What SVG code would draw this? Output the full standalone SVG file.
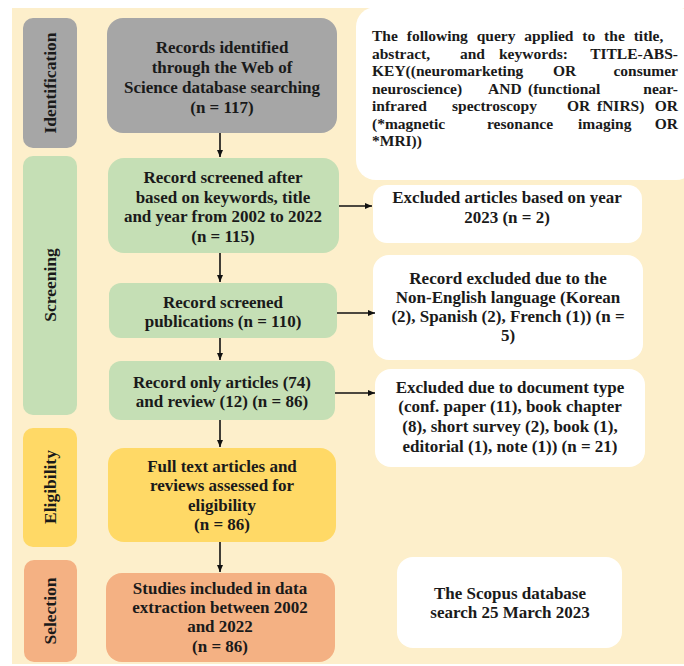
<svg xmlns="http://www.w3.org/2000/svg" width="684" height="666" viewBox="0 0 684 666">
<defs>
<marker id="ah" markerWidth="8" markerHeight="8" refX="7" refY="4" orient="auto" markerUnits="userSpaceOnUse">
<path d="M0,1 L7,4 L0,7 Z" fill="#111"/>
</marker>
<style>
text{font-family:"Liberation Serif",serif;font-weight:bold;fill:#1a1a1a;font-size:17px}
.c{text-anchor:middle}
.e{text-anchor:end}
.q{font-size:15.5px}
.lab{font-size:17.5px}
.con line{stroke:#111;stroke-width:1.6;marker-end:url(#ah)}
.gray{fill:#A6A6A6}
.green{fill:#C5DFB5}
.yellow{fill:#FFD966}
.orange{fill:#F4B183}
.white{fill:#FFFFFF}
</style>
</defs>
<rect x="0" y="0" width="684" height="666" fill="#FFFFFF"/>
<rect x="12" y="8" width="680" height="656" fill="#FDEFCB"/>

<g id="label-identification">
<rect class="gray" x="23" y="18" width="54" height="130" rx="10"/>
<text class="c lab" transform="translate(56,83) rotate(-90)">Identification</text>
</g>
<g id="label-screening">
<rect class="green" x="23" y="156" width="54" height="259" rx="10"/>
<text class="c lab" transform="translate(56,285) rotate(-90)">Screening</text>
</g>
<g id="label-eligibility">
<rect class="yellow" x="23" y="428" width="54" height="119" rx="10"/>
<text class="c lab" transform="translate(56,487) rotate(-90)">Eligibility</text>
</g>
<g id="label-selection">
<rect class="orange" x="24" y="560" width="53" height="102" rx="10"/>
<text class="c lab" transform="translate(56,611) rotate(-90)">Selection</text>
</g>

<g id="records-identified">
<rect class="gray" x="107" y="18" width="230" height="115" rx="16"/>
<text class="c" x="222" y="53">Records identified</text>
<text class="c" x="222" y="73">through the Web of</text>
<text class="c" x="222" y="93">Science database searching</text>
<text class="c" x="222" y="113">(n = 117)</text>
</g>
<g id="screened-keywords">
<rect class="green" x="108" y="158" width="231" height="95" rx="16"/>
<text class="c" x="223" y="183">Record screened after</text>
<text class="c" x="223" y="203">based on keywords, title</text>
<text class="c" x="223" y="222">and year from 2002 to 2022</text>
<text class="c" x="223" y="242">(n = 115)</text>
</g>
<g id="screened-publications">
<rect class="green" x="109" y="283" width="228" height="55" rx="12"/>
<text class="c" x="223" y="308">Record screened</text>
<text class="c" x="223" y="327">publications (n = 110)</text>
</g>
<g id="articles-review">
<rect class="green" x="109" y="361" width="226" height="59" rx="12"/>
<text class="c" x="222" y="388">Record only articles (74)</text>
<text class="c" x="222" y="407">and review (12) (n = 86)</text>
</g>
<g id="full-text">
<rect class="yellow" x="108" y="448" width="228" height="94" rx="16"/>
<text class="c" x="222" y="472">Full text articles and</text>
<text class="c" x="222" y="491">reviews assessed for</text>
<text class="c" x="222" y="511">eligibility</text>
<text class="c" x="222" y="530">(n = 86)</text>
</g>
<g id="studies-included">
<rect class="orange" x="106" y="573" width="229" height="89" rx="16"/>
<text class="c" x="220" y="594">Studies included in data</text>
<text class="c" x="220" y="613">extraction between 2002</text>
<text class="c" x="220" y="632">and 2022</text>
<text class="c" x="220" y="652">(n = 86)</text>
</g>

<g id="query">
<rect class="white" x="356" y="7" width="340" height="173" rx="20"/>
<text class="q" x="372" y="41" word-spacing="5">The following query applied to the title,</text>
<text class="q" y="58.5"><tspan x="372">abstract,</tspan><tspan x="460">and</tspan><tspan x="499">keywords:</tspan></text>
<text class="q e" x="678" y="58.5">TITLE-ABS-</text>
<text class="q" y="76"><tspan x="372">KEY((neuromarketing</tspan><tspan x="553">OR</tspan></text>
<text class="q e" x="678" y="76">consumer</text>
<text class="q" y="93.5"><tspan x="372">neuroscience)</tspan><tspan x="488">AND</tspan><tspan x="528">(functional</tspan></text>
<text class="q e" x="678" y="93.5">near-</text>
<text class="q" y="111"><tspan x="372">infrared</tspan><tspan x="452">spectroscopy</tspan><tspan x="567">OR</tspan><tspan x="597">fNIRS)</tspan></text>
<text class="q e" x="678" y="111">OR</text>
<text class="q" y="128.5"><tspan x="372">(*magnetic</tspan><tspan x="487">resonance</tspan><tspan x="578">imaging</tspan></text>
<text class="q e" x="678" y="128.5">OR</text>
<text class="q" x="372" y="146">*MRI))</text>
</g>
<g id="excluded-year">
<rect class="white" x="373" y="185" width="269" height="58" rx="14"/>
<text class="c" x="507" y="203">Excluded articles based on year</text>
<text class="c" x="507" y="223">2023 (n = 2)</text>
</g>
<g id="excluded-language">
<rect class="white" x="373" y="255" width="270" height="105" rx="16"/>
<text class="c" x="508" y="284">Record excluded due to the</text>
<text class="c" x="508" y="303">Non-English language (Korean</text>
<text class="c" x="508" y="322">(2), Spanish (2), French (1)) (n =</text>
<text class="c" x="508" y="341">5)</text>
</g>
<g id="excluded-type">
<rect class="white" x="375" y="369" width="270" height="98" rx="16"/>
<text class="c" x="510" y="393">Excluded due to document type</text>
<text class="c" x="510" y="412">(conf. paper (11), book chapter</text>
<text class="c" x="510" y="432">(8), short survey (2), book (1),</text>
<text class="c" x="510" y="452">editorial (1), note (1)) (n = 21)</text>
</g>
<g id="scopus">
<rect class="white" x="397" y="557" width="225" height="91" rx="16"/>
<text class="c" x="510" y="599">The Scopus database</text>
<text class="c" x="510" y="618">search 25 March 2023</text>
</g>

<g id="connectors" class="con">
<line x1="220" y1="133" x2="220" y2="157"/>
<line x1="220" y1="253" x2="220" y2="282"/>
<line x1="220" y1="338" x2="220" y2="360"/>
<line x1="220" y1="420" x2="220" y2="447"/>
<line x1="220" y1="542" x2="220" y2="572"/>
<line x1="339" y1="206" x2="372" y2="206"/>
<line x1="337" y1="313" x2="375" y2="313"/>
<line x1="335" y1="393" x2="375" y2="393"/>
</g>
</svg>
